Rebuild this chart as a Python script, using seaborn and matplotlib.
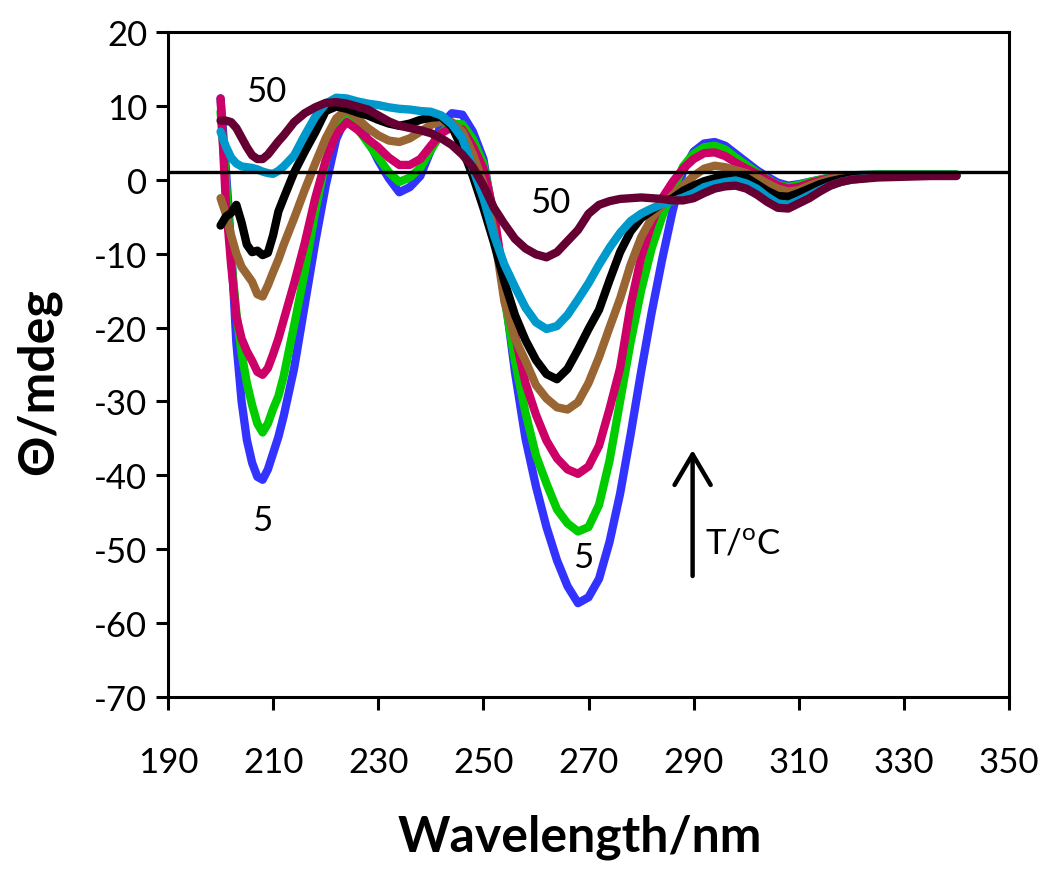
import numpy as np
import pandas as pd
import matplotlib
matplotlib.use("Agg")
import matplotlib.pyplot as plt
import seaborn as sns

# wavelength grid (nm): 1 nm steps near the start, then 2 nm, then 5 nm
wavelength = list(range(200, 212)) + list(range(212, 322, 2)) + [325, 330, 335, 340]

# CD signal (mdeg), one list per temperature curve
t05 = [11.0, 1.5, -9, -22, -30, -35.2, -38.3, -40.2, -40.6, -39.2, -37, -34.8,
       -32, -25.5, -17, -8.5, -0.8, 5.5, 8.6, 7.8, 5.5, 2.6, 0.2, -1.7, -1.0, 0.5,
       4.0, 7.5, 9.0, 8.8, 6.5, 2.8, -5.5, -15, -26, -35, -41.5, -47, -51.5, -55,
       -57.3, -56.5, -54, -49, -42.5, -34.5, -26, -18, -10.8, -4.2, 1.2, 3.8, 4.9,
       5.1, 4.6, 3.5, 2.4, 1.3, 0.4, -0.4, -0.8, -0.6, -0.3, 0.0, 0.3, 0.5, 0.6,
       0.7, 0.7, 0.7, 0.7]
t10 = [9.2, 0.0, -10.5, -18, -23.5, -27.5, -30.5, -33, -34.2, -33, -31, -29.3,
       -26.6, -19.7, -12.5, -4.3, 2.5, 7.0, 8.3, 7.0, 5.0, 3.0, 1.0, -0.3, 0.3, 1.6,
       4.0, 6.3, 7.6, 7.5, 5.5, 2.2, -5, -16, -24.5, -31.5, -37.3, -41.1, -44.6, -46.5,
       -47.6, -47, -44, -38, -30, -22, -15, -9.3, -5, -1.5, 1.8, 3.5, 4.4,
       4.6, 4.1, 3.0, 2.0, 1.0, 0.1, -0.7, -1.0, -0.7, -0.3, 0.0, 0.3, 0.5, 0.6,
       0.7, 0.7, 0.7, 0.7]
t15 = [11.0, -3, -11.5, -18.5, -21.5, -23.2, -24.5, -26, -26.4, -25.5, -23.6, -21.5,
       -19, -14, -8.6, -2.5, 2.6, 6.2, 7.8, 6.8, 5.5, 4.4, 3.0, 2.0, 2.0, 2.8,
       4.6, 6.3, 7.1, 6.8, 4.5, 1.5, -4.5, -14, -21, -27.5, -31.8, -35.3, -37.7, -39.2,
       -39.8, -38.8, -36, -31, -25.5, -17, -10.5, -6, -2.5, -0.3, 1.5, 2.8, 3.6,
       3.7, 3.2, 2.3, 1.5, 0.8, 0.0, -0.8, -1.2, -1.0, -0.5, -0.1, 0.2, 0.4, 0.5,
       0.6, 0.6, 0.6, 0.6]
t20 = [-2.5, -4.6, -7.5, -10, -11.8, -12.8, -13.8, -15.5, -15.8, -14.3, -12.5, -10.8,
       -8.8, -5.2, -1.4, 2.2, 5.6, 8.3, 9.5, 8.3, 7.0, 6.0, 5.3, 5.1, 5.6, 6.5,
       7.4, 7.9, 7.8, 6.5, 3.5, -0.5, -7, -16.5, -21.5, -24.5, -27.8, -29.6, -30.8, -31.1,
       -30.1, -27.5, -24, -20, -16.1, -11.5, -7.8, -5.2, -3.5, -2.1, -0.8, 0.5, 1.5,
       1.9, 1.7, 1.3, 0.9, 0.3, -0.5, -1.2, -1.6, -1.4, -0.8, -0.3, 0.1, 0.4, 0.5,
       0.6, 0.6, 0.6, 0.6]
t30 = [-6.2, -5.0, -4.5, -3.4, -5.8, -8.8, -9.8, -9.6, -10.2, -9.9, -7.5, -4.3,
       -2.5, 1.0, 3.8, 6.4, 9.3, 9.9, 9.6, 9.1, 8.7, 8.1, 7.6, 7.3, 7.6, 8.1,
       8.4, 8.5, 7.2, 4.2, 0.5, -3.8, -8.5, -13.8, -18.3, -21.7, -24.4, -26.3, -27, -25.6,
       -23, -20.2, -17.6, -13.6, -9.8, -7, -5.2, -4.2, -3.2, -2.5, -1.5, -0.8, -0.2,
       0.2, 0.5, 0.6, 0.3, -0.6, -1.5, -2.2, -2.3, -1.8, -1.2, -0.6, -0.2, 0.1, 0.3,
       0.5, 0.6, 0.6, 0.6]
t40 = [6.5, 4.5, 3.0, 2.2, 1.8, 1.7, 1.6, 1.4, 1.1, 0.9, 0.8, 1.2,
       1.8, 3.3, 6.0, 8.5, 10.3, 11.1, 11.0, 10.6, 10.3, 10.1, 9.8, 9.6, 9.5, 9.3,
       9.2, 8.7, 7.5, 5.6, 1.5, -2.5, -7.5, -11.5, -14.5, -17.3, -19.3, -20.2, -19.8, -18.3,
       -16.2, -14, -11.5, -9.2, -7.2, -5.6, -4.6, -3.9, -3.3, -2.9, -2.4, -1.8, -1.0,
       -0.6, -0.3, -0.1, -0.5, -1.2, -2.3, -3.2, -3.4, -2.8, -2.1, -1.4, -0.8, -0.3, 0.0,
       0.4, 0.5, 0.6, 0.6]
t50 = [8.0, 8.0, 7.8, 7.0, 5.7, 4.4, 3.3, 2.8, 2.8, 3.4, 4.3, 5.2,
       6.0, 7.8, 9.0, 9.8, 10.4, 10.5, 10.3, 9.9, 9.5, 8.7, 7.9, 7.3, 7.0, 6.7,
       6.3, 5.6, 4.7, 3.4, 1.7, -0.8, -3.8, -6.0, -8.0, -9.3, -10.1, -10.5, -9.8, -8.3,
       -6.8, -4.6, -3.4, -2.9, -2.6, -2.5, -2.4, -2.5, -2.6, -2.8, -2.8, -2.5, -1.8,
       -1.2, -0.9, -0.8, -1.2, -2.0, -3.0, -3.8, -3.9, -3.2, -2.5, -1.6, -0.8, -0.3, 0.0,
       0.3, 0.4, 0.5, 0.5]

temps = ["5", "10", "15", "20", "30", "40", "50"]
series = [t05, t10, t15, t20, t30, t40, t50]
colors = ["#3333FF", "#00CC00", "#CC0066", "#996633", "#000000", "#0099CC", "#660033"]

baseline = 1.1

rows = []
for t, vals in zip(temps, series):
    for w, v in zip(wavelength, vals):
        rows.append({"wavelength": w, "theta": v, "T": t})
df = pd.DataFrame(rows)

sns.set_style("ticks")
plt.rcParams["font.family"] = ["Lato", "DejaVu Sans"]
plt.rcParams["axes.unicode_minus"] = False
plt.rcParams["text.color"] = "black"
plt.rcParams["axes.labelcolor"] = "black"
plt.rcParams["xtick.color"] = "black"
plt.rcParams["ytick.color"] = "black"

fig = plt.figure(figsize=(10.5, 8.78), dpi=100)
ax = fig.add_axes([0.16, 0.205, 0.801, 0.7575])

sns.lineplot(data=df, x="wavelength", y="theta", hue="T", hue_order=temps,
             palette=colors, sort=False, estimator=None, linewidth=6.0,
             legend=False, ax=ax, solid_joinstyle="round", solid_capstyle="round")
ax.axhline(baseline, color="black", linewidth=2.4, zorder=5)

ax.set_xlim(190, 350)
ax.set_ylim(-70, 20)
ax.set_xticks(range(190, 351, 20))
ax.set_yticks(range(-70, 21, 10))
ax.tick_params(direction="out", length=9, width=2.2, labelsize=25, pad=6)
ax.tick_params(axis="x", pad=26)
for s in ax.spines.values():
    s.set_linewidth(2.2)
    s.set_color("black")

ax.set_xlabel("Wavelength/nm", fontsize=36, fontweight="bold")
ax.set_ylabel("Θ/mdeg", fontsize=36, fontweight="bold")
ax.xaxis.set_label_coords(0.49, -0.175)
ax.yaxis.set_label_coords(-0.127, 0.475)

# curve labels and temperature arrow
ax.text(208.6, 12.0, "50", fontsize=25, ha="center", va="center")
ax.text(208.0, -46.0, "5", fontsize=25, ha="center", va="center")
ax.text(262.7, -3.0, "50", fontsize=25, ha="center", va="center")
ax.text(268.9, -51.0, "5", fontsize=25, ha="center", va="center")
ax.annotate("", xy=(289.8, -36.2), xytext=(289.8, -54.0),
            arrowprops=dict(arrowstyle="->,head_length=1.1,head_width=0.65",
                            mutation_scale=20, color="black", lw=3.2))
ax.text(292.2, -49.2, r"T/$^{\mathregular{o}}$C", fontsize=25, ha="left", va="center")

fig.savefig("out.png", dpi=100)
